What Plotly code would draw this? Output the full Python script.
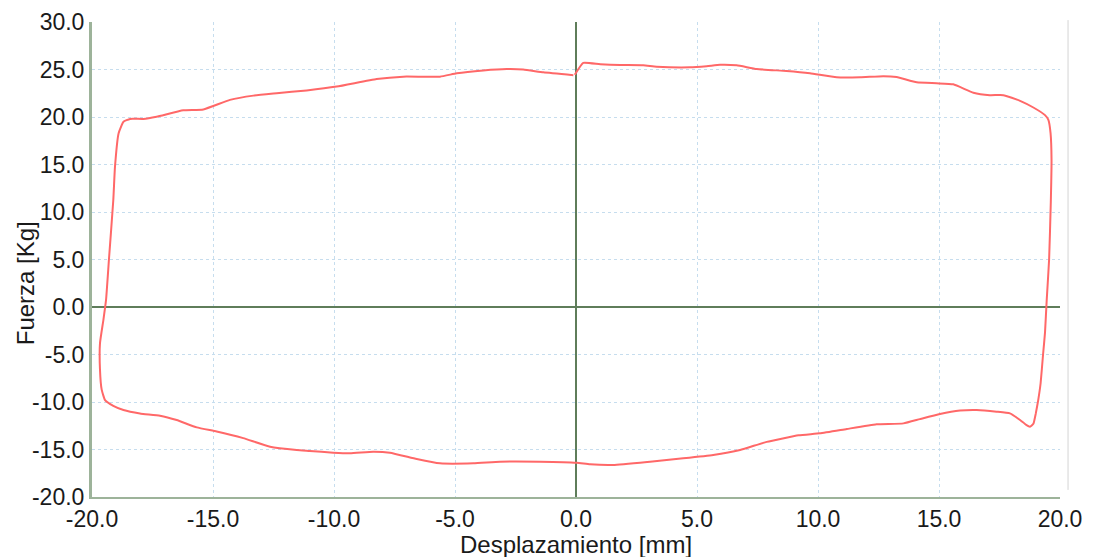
import plotly.graph_objects as go

# Hysteresis loop: displacement [mm] vs force [Kg]
desplazamiento = [
    -0.05, 0.3, 1.0, 1.82, 2.78, 3.33, 4.71, 5.4, 5.95, 6.64, 7.47, 8.7, 9.67, 10.77, 11.74,
    12.7, 13.25, 14.08, 14.9, 15.59, 16.42, 17.1, 17.66, 18.35, 18.9, 19.38, 19.52, 19.61,
    19.65, 19.62, 19.55, 19.45, 19.38, 19.3, 19.2, 19.1, 19.0, 18.9, 18.76, 18.6, 18.35,
    17.93, 17.38, 16.56, 15.87, 15.04, 14.21, 13.53, 12.42, 11.19, 10.08, 9.2, 7.88, 6.78,
    5.67, 4.43, 3.06, 1.54, 0.58, 0.03, -1.49, -3.14, -4.24, -5.62, -6.58, -7.69, -8.38,
    -9.34, -10.03, -11.0, -11.54, -12.64, -13.75, -14.85, -15.67, -16.5, -17.19, -18.02,
    -18.7, -19.12, -19.46, -19.6, -19.67, -19.67, -19.53, -19.42, -19.3, -19.12, -19.05,
    -18.9, -18.7, -18.43, -17.88, -17.33, -16.23, -15.4, -14.3, -13.33, -12.37, -11.13,
    -9.89, -8.24, -7.14, -5.62, -4.93, -3.83, -2.86, -2.18, -1.35, -0.11,
]
fuerza = [
    24.45, 25.7, 25.55, 25.47, 25.44, 25.3, 25.23, 25.35, 25.5, 25.44, 25.05, 24.84, 24.6,
    24.18, 24.18, 24.3, 24.2, 23.65, 23.55, 23.44, 22.56, 22.3, 22.3, 21.7, 21.0, 20.2,
    19.7, 18.3, 15.5, 11.0, 5.0, 0.7, -2.7, -5.0, -8.0, -9.8, -11.2, -12.3, -12.6, -12.4,
    -11.9, -11.2, -11.02, -10.84, -10.9, -11.26, -11.8, -12.25, -12.35, -12.84, -13.3,
    -13.5, -14.2, -15.05, -15.58, -15.93, -16.28, -16.63, -16.56, -16.39, -16.28, -16.28,
    -16.46, -16.46, -16.0, -15.33, -15.23, -15.4, -15.33, -15.15, -15.05, -14.7, -13.8,
    -13.1, -12.67, -11.9, -11.44, -11.2, -10.84, -10.4, -9.8, -8.7, -6.6, -3.8, -1.37,
    0.74, 5.0, 11.26, 14.77, 18.3, 19.5, 19.8, 19.8, 20.03, 20.7, 20.8, 21.8, 22.25, 22.5,
    22.8, 23.2, 24.0, 24.25, 24.25, 24.6, 24.9, 25.05, 25.0, 24.7, 24.4,
]

x_ticks = [-20, -15, -10, -5, 0, 5, 10, 15, 20]
x_labels = ["-20.0", "-15.0", "-10.0", "-5.0", "0.0", "5.0", "10.0", "15.0", "20.0"]
y_ticks = [-20, -15, -10, -5, 0, 5, 10, 15, 20, 25, 30]
y_labels = ["-20.0", "-15.0", "-10.0", "-5.0", "0.0", "5.0", "10.0", "15.0", "20.0", "25.0", "30.0"]

FONT = "Liberation Sans"
GRID = "#c6ddee"
ZERO = "#5f7d5a"
AXIS = "#9db39a"

fig = go.Figure()
fig.add_trace(go.Scatter(
    x=desplazamiento, y=fuerza, mode="lines",
    line=dict(color="#ff6868", width=2, shape="spline", smoothing=0.4),
    hoverinfo="x+y", showlegend=False,
))

fig.update_layout(
    width=1080, height=549,
    margin=dict(l=84, r=28, t=14, b=60),
    paper_bgcolor="white", plot_bgcolor="white",
    font=dict(family=FONT, size=23, color="#1a1a1a"),
    xaxis=dict(
        range=[-20, 20], tickmode="array", tickvals=x_ticks, ticktext=x_labels,
        automargin=False,
        showgrid=True, gridcolor=GRID, gridwidth=1, griddash="dot",
        zeroline=True, zerolinecolor=ZERO, zerolinewidth=2,
        showline=True, linecolor=AXIS, linewidth=2,
        ticks="", tickfont=dict(family=FONT, size=23, color="#1a1a1a"),
    ),
    yaxis=dict(
        range=[-20, 30], tickmode="array", tickvals=y_ticks, ticktext=y_labels,
        automargin=False,
        showgrid=True, gridcolor=GRID, gridwidth=1, griddash="dot",
        zeroline=True, zerolinecolor=ZERO, zerolinewidth=2,
        showline=True, linecolor=AXIS, linewidth=3,
        ticks="", tickfont=dict(family=FONT, size=23, color="#1a1a1a"),
    ),
    annotations=[
        dict(text="Desplazamiento [mm]", xref="paper", yref="paper", x=0.5, y=-0.101,
             xanchor="center", yanchor="middle", showarrow=False,
             font=dict(family=FONT, size=24, color="#1a1a1a")),
        dict(text="Fuerza [Kg]", xref="paper", yref="paper", x=-0.0692, y=0.45,
             xanchor="center", yanchor="middle", showarrow=False, textangle=-90,
             font=dict(family=FONT, size=24, color="#1a1a1a")),
    ],
    shapes=[
        dict(type="line", xref="paper", yref="paper", x0=1.0083, x1=1.0083, y0=0.015, y1=1.004,
             line=dict(color="#d4d4d4", width=1)),
    ],
)

fig.write_html("out.html")
